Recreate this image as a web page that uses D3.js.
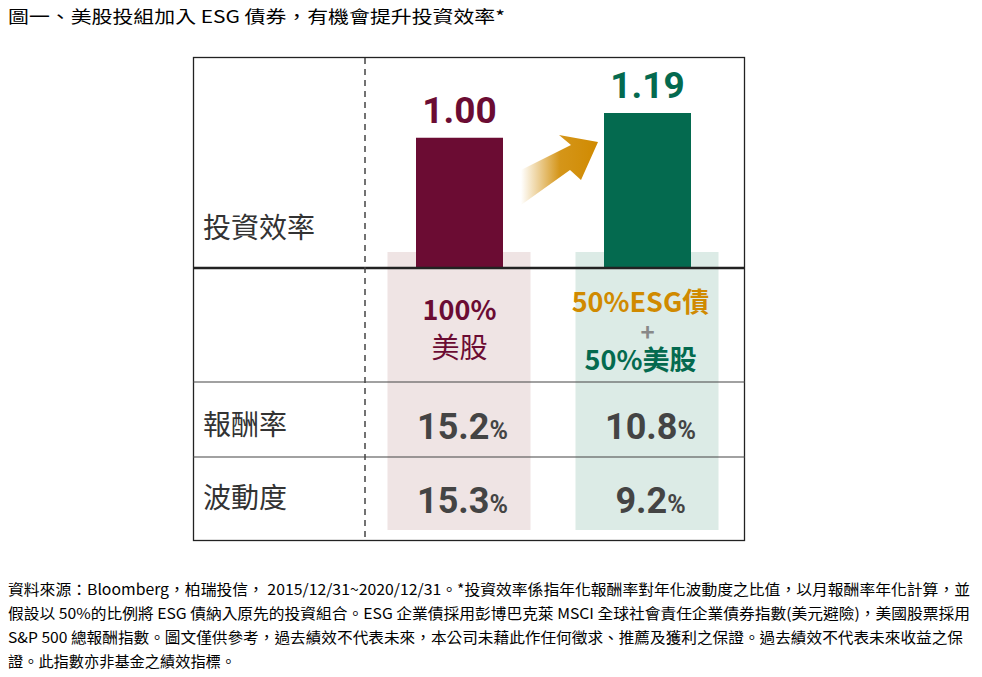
<!DOCTYPE html>
<html><head><meta charset="utf-8">
<script src="https://cdn.jsdelivr.net/npm/d3@7"></script>
<style>body{margin:0;background:#fff}</style></head>
<body><svg id="c" width="982" height="677"></svg>
<script>
const categories = ["100%美股", "50%ESG債+50%美股"];
const efficiency = [1.00, 1.19];
const returns = ["15.2", "10.8"];
const volatility = ["15.3", "9.2"];
const rowLabels = ["投資效率", "報酬率", "波動度"];
const barColors = ["#6b0c33", "#046a4f"];
const bgColors = ["#efe4e4", "#dcebe6"];
const footer = [
 "資料來源：Bloomberg，柏瑞投信，  2015/12/31~2020/12/31。*投資效率係指年化報酬率對年化波動度之比值，以月報酬率年化計算，並",
 "假設以 50%的比例將 ESG 債納入原先的投資組合。ESG 企業債採用彭博巴克萊 MSCI 全球社會責任企業債券指數(美元避險)，美國股票採用",
 "S&P 500 總報酬指數。圖文僅供參考，過去績效不代表未來，本公司未藉此作任何徵求、推薦及獲利之保證。過去績效不代表未來收益之保",
 "證。此指數亦非基金之績效指標。"];
const footerLen = [962, 962, 955, 228];
const svg = d3.select("#c");
const font = "'Noto Sans CJK TC','Noto Sans',sans-serif";
svg.append("text").attr("x",8).attr("y",23).attr("font-size",17).attr("font-family",font).attr("fill","#000")
 .attr("textLength",497).attr("lengthAdjust","spacingAndGlyphs")
 .text("圖一、美股投組加入 ESG 債券，有機會提升投資效率*");
const centers = [459.5, 647.5];
const y = d3.scaleLinear().domain([0,1.19]).range([268,113]);
const bw = 87;
svg.selectAll(".bg").data(categories).join("rect").attr("x",(d,i)=>centers[i]-72).attr("y",252)
 .attr("width",143).attr("height",278).attr("fill",(d,i)=>bgColors[i]);
svg.selectAll(".bar").data(efficiency).join("rect").attr("x",(d,i)=>centers[i]-bw/2).attr("y",d=>y(d))
 .attr("width",bw).attr("height",d=>y(0)-y(d)).attr("fill",(d,i)=>barColors[i]);
svg.selectAll(".vl").data(efficiency).join("text").attr("x",(d,i)=>centers[i]).attr("y",d=>y(d)-15)
 .attr("text-anchor","middle").attr("font-size",37).attr("font-weight","bold").attr("font-family","Roboto,sans-serif")
 .attr("fill",(d,i)=>barColors[i]).text(d=>d.toFixed(2));
const defs = svg.append("defs");
const g = defs.append("linearGradient").attr("id","ag").attr("x1","0").attr("x2","1").attr("y1","0").attr("y2","0");
g.append("stop").attr("offset","0").attr("stop-color","#d08a00").attr("stop-opacity",0);
g.append("stop").attr("offset","0.5").attr("stop-color","#d08a00").attr("stop-opacity",0.9);
g.append("stop").attr("offset","1").attr("stop-color","#d08a00");
svg.append("path").attr("d","M511,170 L511,205 L560,170 L571,180 L588,142 L549,135 L561,145 Z")
 .attr("fill","url(#ag)").attr("transform","translate(10,0)");
svg.append("rect").attr("x",193.5).attr("y",57.5).attr("width",551).attr("height",483).attr("fill","none").attr("stroke","#222").attr("stroke-width",1.3);
svg.append("line").attr("x1",193).attr("x2",745).attr("y1",268).attr("y2",268).attr("stroke","#222").attr("stroke-width",2.5);
[382,457].forEach(v=>svg.append("line").attr("x1",193).attr("x2",745).attr("y1",v).attr("y2",v).attr("stroke","#444").attr("stroke-width",1.2));
svg.append("line").attr("x1",365).attr("x2",365).attr("y1",58).attr("y2",540).attr("stroke","#444").attr("stroke-width",1.5).attr("stroke-dasharray","6,5");
[228,425,498].forEach((p,i)=>svg.append("text").attr("x",203).attr("y",p+10).attr("font-size",28)
 .attr("font-family",font).attr("fill","#333").text(rowLabels[i]));
const c1 = svg.append("text").attr("text-anchor","middle").attr("font-family",font).attr("font-weight","bold").attr("fill",barColors[0]).attr("font-size",27);
c1.append("tspan").attr("x",centers[0]).attr("y",320).text("100%");
c1.append("tspan").attr("x",centers[0]).attr("y",358).attr("font-weight","normal").attr("font-size",28).text("美股");
svg.append("text").attr("x",centers[1]-7).attr("y",312).attr("text-anchor","middle").attr("font-family",font).attr("font-weight","bold")
 .attr("font-size",27).attr("fill","#d08a00").text("50%ESG債");
svg.append("text").attr("x",centers[1]).attr("y",341).attr("text-anchor","middle").attr("font-family",font).attr("font-weight","bold")
 .attr("font-size",24).attr("fill","#888").text("+");
svg.append("text").attr("x",centers[1]-7).attr("y",370).attr("text-anchor","middle").attr("font-family",font).attr("font-weight","bold")
 .attr("font-size",27).attr("fill",barColors[1]).text("50%美股");
function val(arr, yy){
 arr.forEach((v,i)=>{
  const t = svg.append("text").attr("x",centers[i]+3).attr("y",yy).attr("text-anchor","middle").attr("font-family","Roboto,sans-serif")
   .attr("font-weight","bold").attr("fill","#444");
  t.append("tspan").attr("font-size",36).text(v);
  t.append("tspan").attr("font-size",25).text("%");
 });
}
val(returns,439); val(volatility,513);
footer.forEach((l,i)=>svg.append("text").attr("x",8).attr("y",595+i*24).attr("font-size",15).attr("font-family",font).attr("fill","#000")
 .attr("textLength",footerLen[i]).attr("lengthAdjust","spacingAndGlyphs").text(l));
</script></body></html>
